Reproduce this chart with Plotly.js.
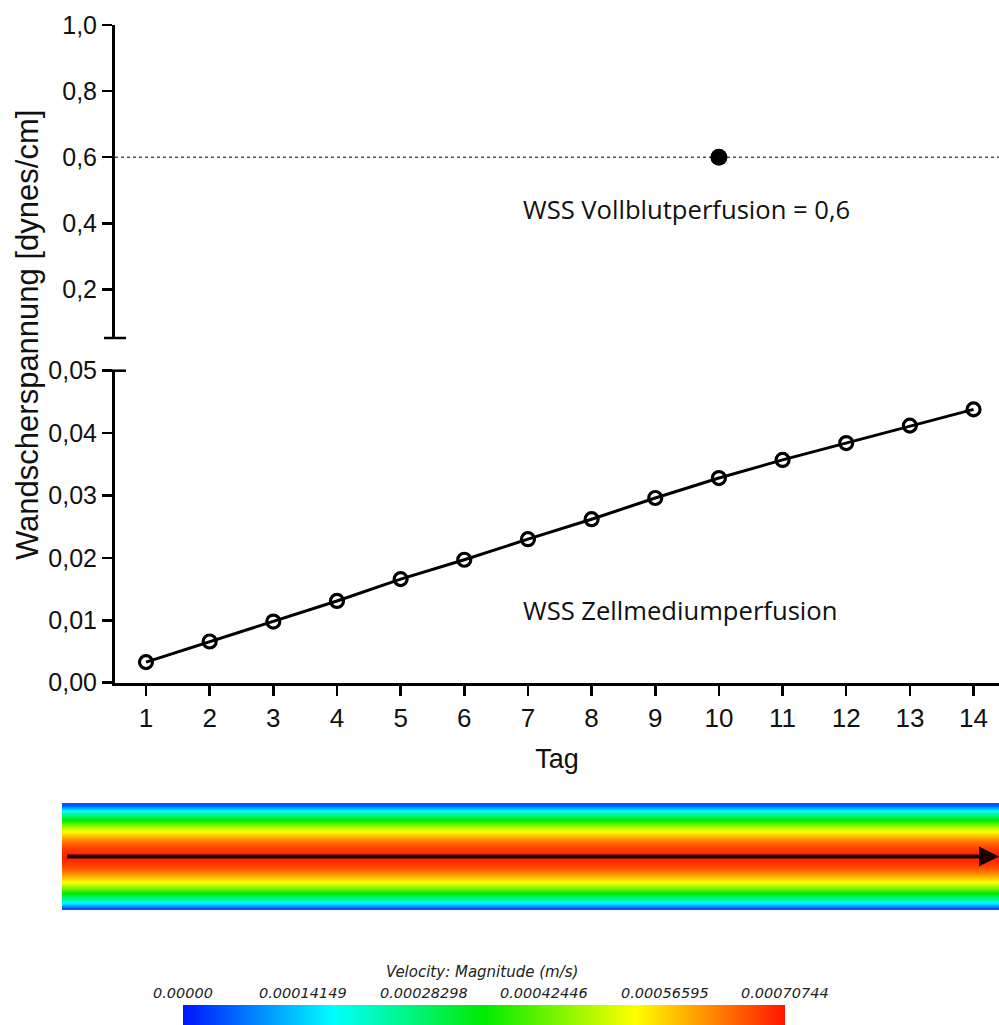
<!DOCTYPE html>
<html>
<head>
<meta charset="utf-8">
<script src="https://cdn.plot.ly/plotly-3.0.1.min.js"></script>
<style>html,body{margin:0;padding:0;background:#fff;}#chart{width:999px;height:1025px;}</style>
</head>
<body>
<div id="chart"></div>
<script>
// ---- data ----
const days = [1, 2, 3, 4, 5, 6, 7, 8, 9, 10, 11, 12, 13, 14];
const wssMedium = [0.0033, 0.0066, 0.0098, 0.0131, 0.0166, 0.0197, 0.0230, 0.0262, 0.0296, 0.0328, 0.0357, 0.0384, 0.0412, 0.0438];
const bloodDay = [10];
const wssBlood = [0.6];
const wssBloodRef = 0.6;
const topTicks = [0.2, 0.4, 0.6, 0.8, 1.0];
const bottomTicks = [0, 0.01, 0.02, 0.03, 0.04, 0.05];
const xTicks = [1, 2, 3, 4, 5, 6, 7, 8, 9, 10, 11, 12, 13, 14];
const labelBlood = 'WSS Vollblutperfusion = 0,6';
const labelMedium = 'WSS Zellmediumperfusion';
const yTitle = 'Wandscherspannung [dynes/cm]';
const xTitle = 'Tag';
// velocity magnitude across the channel (rows, bottom to top), m/s
const profileVelocity = [0.00005, 0.00014, 0.00023, 0.00030, 0.00037, 0.00044, 0.00050, 0.00055, 0.00059, 0.00063, 0.00066, 0.00068, 0.00069, 0.00070,
                         0.00069, 0.00068, 0.00066, 0.00063, 0.00059, 0.00055, 0.00050, 0.00044, 0.00037, 0.00030, 0.00023, 0.00014, 0.00005];
const profileRows = [0, 1, 2, 3, 4, 5, 6, 7, 8, 9, 10, 11, 12, 13, 14, 15, 16, 17, 18, 19, 20, 21, 22, 23, 24, 25, 26];
const channelAxisRow = 13;
const colorbarTicks = [0, 0.00014149, 0.00028298, 0.00042446, 0.00056595, 0.00070744];
const colorbarLabels = ['0.00000', '0.00014149', '0.00028298', '0.00042446', '0.00056595', '0.00070744'];
const colorbarTitle = 'Velocity: Magnitude (m/s)';

// ---- helpers (pixel -> paper) ----
const W = 999, H = 1025;
const px = v => v / W;
const py = v => 1 - v / H;

const rainbow = [[0, 'rgb(0,20,255)'], [0.25, 'rgb(0,255,255)'], [0.5, 'rgb(0,235,0)'], [0.75, 'rgb(255,255,0)'], [1, 'rgb(255,20,0)']];
const vmax = colorbarTicks[colorbarTicks.length - 1];

const traces = [
  {
    type: 'scatter', mode: 'lines+markers', x: days, y: wssMedium, xaxis: 'x', yaxis: 'y2',
    line: {color: '#000', width: 3},
    marker: {symbol: 'circle-open', size: 13, color: '#000', line: {width: 3.2, color: '#000'}},
    hoverinfo: 'x+y', showlegend: false
  },
  {
    type: 'scatter', mode: 'markers', x: bloodDay, y: wssBlood, xaxis: 'x2', yaxis: 'y',
    marker: {symbol: 'circle', size: 17, color: '#000'}, showlegend: false
  },
  {
    type: 'heatmap', x: [0, 1], y: profileRows, z: profileVelocity.map(v => [v, v]),
    xaxis: 'x3', yaxis: 'y3', zsmooth: 'best', colorscale: rainbow, zmin: 0, zmax: vmax, showscale: false, hoverinfo: 'z'
  },
  {
    type: 'heatmap', x: colorbarTicks, y: [0, 1], z: [colorbarTicks, colorbarTicks],
    xaxis: 'x4', yaxis: 'y4', zsmooth: 'best', colorscale: rainbow, zmin: 0, zmax: vmax, showscale: false, hoverinfo: 'z'
  }
];

const tickFont = {family: 'Liberation Sans, Arial, sans-serif', size: 25, color: '#111'};

const annotations = [
  {xref: 'paper', yref: 'paper', x: px(521), y: py(210), xanchor: 'left', yanchor: 'middle', showarrow: false,
   text: labelBlood, font: {family: 'Open Sans, sans-serif', size: 25.6, color: '#111'}},
  {xref: 'paper', yref: 'paper', x: px(521), y: py(610), xanchor: 'left', yanchor: 'middle', showarrow: false,
   text: labelMedium, font: {family: 'Open Sans, sans-serif', size: 25.6, color: '#111'}},
  {xref: 'paper', yref: 'paper', x: px(27), y: py(335), xanchor: 'center', yanchor: 'middle', textangle: -90, showarrow: false,
   text: yTitle, font: {family: 'Liberation Sans, Arial, sans-serif', size: 31, color: '#111'}},
  {xref: 'x3', yref: 'y3', x: 1.5, y: channelAxisRow, ax: -0.492, ay: channelAxisRow, axref: 'x3', ayref: 'y3',
   showarrow: true, arrowhead: 2, arrowsize: 1, arrowwidth: 4, arrowcolor: '#1a0000', text: ''},
  {xref: 'paper', yref: 'paper', x: px(482), y: py(972), xanchor: 'center', yanchor: 'middle', showarrow: false,
   text: '<i>' + colorbarTitle + '</i>', font: {family: 'DejaVu Sans, sans-serif', size: 15, color: '#222'}}
];
colorbarTicks.forEach((v, i) => {
  annotations.push({xref: 'x4', yref: 'paper', x: v, y: py(993), xanchor: 'center', yanchor: 'middle', showarrow: false,
    text: '<i>' + colorbarLabels[i] + '</i>', font: {family: 'DejaVu Sans, sans-serif', size: 14.5, color: '#222'}});
});

const shapes = [
  // reference line at WSS whole blood
  {type: 'line', xref: 'x2 domain', yref: 'y', x0: 0, x1: 1, y0: wssBloodRef, y1: wssBloodRef,
   line: {color: '#555', width: 1.5, dash: 'dot'}, layer: 'below'},
  // axis break caps
  {type: 'line', xref: 'paper', yref: 'y domain', x0: px(104), x1: px(126), y0: 0, y1: 0, line: {color: '#000', width: 2.5}},
  {type: 'line', xref: 'paper', yref: 'y2 domain', x0: px(104), x1: px(126), y0: 1, y1: 1, line: {color: '#000', width: 2.5}}
];

const layout = {
  width: W, height: H, autosize: false,
  margin: {l: 0, r: 0, t: 0, b: 0, pad: 0},
  paper_bgcolor: '#fff', plot_bgcolor: 'rgba(0,0,0,0)',
  separators: ',.',
  showlegend: false,
  xaxis: {
    domain: [px(115), 1], range: [0.513, 14.40], anchor: 'y2',
    showline: true, linecolor: '#000', linewidth: 3, showgrid: false, zeroline: false,
    tickmode: 'array', tickvals: xTicks, ticks: 'outside', ticklen: 10, tickwidth: 2.5, tickcolor: '#000',
    tickfont: {family: 'Liberation Sans, Arial, sans-serif', size: 26, color: '#111'},
    title: {text: xTitle, font: {family: 'Liberation Sans, Arial, sans-serif', size: 27, color: '#111'}, standoff: 18}
  },
  xaxis2: {
    domain: [px(115), 1], range: [0.513, 14.40], anchor: 'y', matches: 'x', visible: false
  },
  yaxis: {
    domain: [py(338), py(25)], range: [0.0527, 1.0], anchor: 'x2',
    showline: true, linecolor: '#000', linewidth: 3, showgrid: false, zeroline: false,
    tickmode: 'array', tickvals: topTicks, tickformat: '.1f', ticks: 'outside', ticklen: 10, tickwidth: 2.5, tickcolor: '#000',
    tickfont: tickFont
  },
  yaxis2: {
    domain: [py(682.7), py(370.7)], range: [0, 0.05], anchor: 'x',
    showline: true, linecolor: '#000', linewidth: 3, showgrid: false, zeroline: false,
    tickmode: 'array', tickvals: bottomTicks, tickformat: '.2f', ticks: 'outside', ticklen: 10, tickwidth: 2.5, tickcolor: '#000',
    tickfont: tickFont
  },
  xaxis3: {domain: [px(62), 1], range: [-0.5, 1.5], anchor: 'y3', visible: false, fixedrange: true},
  yaxis3: {domain: [py(910), py(803)], range: [-0.5, 26.5], anchor: 'x3', visible: false, fixedrange: true},
  xaxis4: {domain: [px(183), px(785)], range: [0, vmax], anchor: 'y4', visible: false, fixedrange: true},
  yaxis4: {domain: [0, py(1005)], range: [-0.5, 1.5], anchor: 'x4', visible: false, fixedrange: true},
  annotations: annotations,
  shapes: shapes
};

Plotly.newPlot('chart', traces, layout, {displayModeBar: false, staticPlot: true});
</script>
</body>
</html>
